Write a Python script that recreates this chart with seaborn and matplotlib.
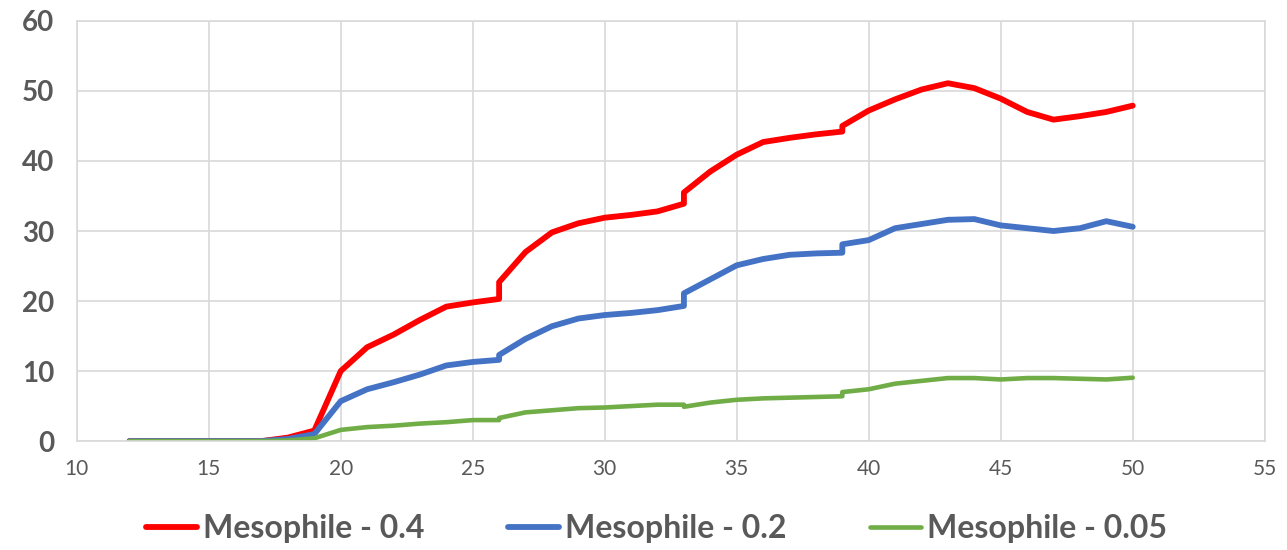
import matplotlib
matplotlib.use("Agg")
import matplotlib.pyplot as plt
import seaborn as sns
import pandas as pd

# x values (duplicate x = step at the same time point)
days = [12, 13, 14, 15, 16, 17, 18, 19, 20, 21, 22, 23, 24, 25, 26, 26,
        27, 28, 29, 30, 31, 32, 33, 33, 34, 35, 36, 37, 38, 39, 39,
        40, 41, 42, 43, 44, 45, 46, 47, 48, 49, 50]

meso_04 = [0, 0, 0, 0, 0, 0, 0.5, 1.5, 10.0, 13.4, 15.2, 17.3, 19.2, 19.8, 20.3, 22.7,
           27.0, 29.8, 31.1, 31.9, 32.3, 32.8, 33.9, 35.5, 38.5, 40.9, 42.7, 43.3, 43.8, 44.2, 45.0,
           47.2, 48.8, 50.2, 51.1, 50.4, 48.9, 47.0, 45.9, 46.4, 47.0, 47.9]

meso_02 = [0, 0, 0, 0, 0, 0, 0.3, 1.0, 5.7, 7.4, 8.4, 9.5, 10.8, 11.3, 11.6, 12.3,
           14.6, 16.4, 17.5, 18.0, 18.3, 18.7, 19.3, 21.1, 23.1, 25.1, 26.0, 26.6, 26.8, 26.9, 28.1,
           28.7, 30.4, 31.0, 31.6, 31.7, 30.8, 30.4, 30.0, 30.4, 31.4, 30.6]

meso_005 = [0, 0, 0, 0, 0, 0, 0.1, 0.4, 1.6, 2.0, 2.2, 2.5, 2.7, 3.0, 3.0, 3.3,
            4.1, 4.4, 4.7, 4.8, 5.0, 5.2, 5.2, 4.9, 5.5, 5.9, 6.1, 6.2, 6.3, 6.4, 7.0,
            7.4, 8.2, 8.6, 9.0, 9.0, 8.8, 9.0, 9.0, 8.9, 8.8, 9.05]

labels = ["Mesophile - 0.4", "Mesophile - 0.2", "Mesophile - 0.05"]
colors = ["#ff0000", "#4472c4", "#70ad47"]
widths = [4.2, 4.2, 3.3]

rows = []
for lab, vals in zip(labels, [meso_04, meso_02, meso_005]):
    for i, (d, v) in enumerate(zip(days, vals)):
        rows.append({"order": i, "day": d, "value": v, "series": lab})
df = pd.DataFrame(rows)

sns.set_theme(style="white")
plt.rcParams["font.family"] = ["Lato", "DejaVu Sans"]

fig = plt.figure(figsize=(12.87, 5.5), dpi=100)
ax = fig.add_axes([0.0596, 0.198, 0.9231, 0.764])

for lab, col, lw in zip(labels, colors, widths):
    sub = df[df["series"] == lab]
    sns.lineplot(data=sub, x="day", y="value", estimator=None, sort=False,
                 color=col, linewidth=lw, label=lab, ax=ax,
                 solid_capstyle="round", solid_joinstyle="round")

ax.set_xlim(10, 55)
ax.set_ylim(0, 60)
ax.set_xticks(range(10, 56, 5))
ax.set_yticks(range(0, 61, 10))
ax.grid(True, color="#d9d9d9", linewidth=1.2)
ax.set_axisbelow(True)
for sp in ax.spines.values():
    sp.set_color("#d9d9d9")
    sp.set_linewidth(1.2)
ax.tick_params(axis="both", length=0)
ax.tick_params(axis="x", labelsize=15, labelcolor="#595959", pad=13)
ax.tick_params(axis="y", labelsize=20, labelcolor="#595959", pad=16)
for t in ax.get_yticklabels():
    t.set_fontweight("bold")
ax.set_xlabel("")
ax.set_ylabel("")

handles, labs = ax.get_legend_handles_labels()
ax.legend_.remove()
leg = fig.legend(handles, labs, loc="lower center", bbox_to_anchor=(0.51, -0.04),
                 ncol=3, frameon=False, fontsize=23, handlelength=1.6,
                 handletextpad=0.2, columnspacing=2.6)
for t in leg.get_texts():
    t.set_fontweight("bold")
    t.set_color("#595959")

fig.savefig("out.png", dpi=100)
